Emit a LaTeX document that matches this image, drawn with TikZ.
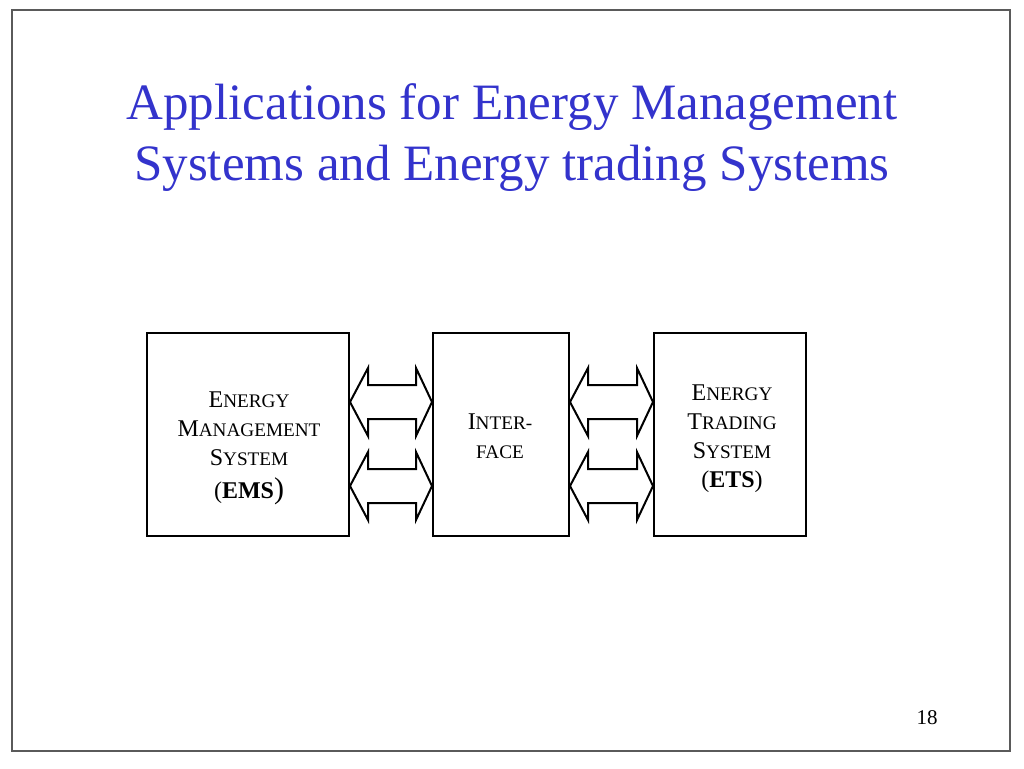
\documentclass[tikz,border=0pt]{standalone}
\usepackage{fontspec}
\setmainfont{Liberation Serif}
\usetikzlibrary{calc}

\definecolor{titleblue}{RGB}{51,51,204}
\definecolor{framegray}{RGB}{90,90,90}

% капитель: первая буква крупно, остальные мельче
\newcommand{\sck}[2]{#1{\fontsize{19.2}{29}\selectfont #2}}
% двойная стрелка между блоками на уровне строки
\newcommand{\link}[3]{%
  \draw[arr] (#1.east |- #3) -- ++(18,-34) -- ++(0,17)
    -- ($(#2.west |- #3)+(-16,-17)$) -- ++(0,-17) -- (#2.west |- #3)
    -- ++(-16,34) -- ++(0,-17) -- ($(#1.east |- #3)+(18,17)$)
    -- ++(0,17) -- cycle;}

\begin{document}
\begin{tikzpicture}[x=1pt, y=-1pt,
    box/.style={draw, line width=2pt, minimum height=203, inner sep=0pt},
    arr/.style={draw, line width=2pt, line join=miter},
    txt/.style={font=\fontsize{24}{29}\selectfont, align=center}]
  \useasboundingbox (0,0) rectangle (1024,768);

  % Рамка слайда
  \draw[framegray, line width=1.3pt] (12,10) rectangle (1010,751);

  % Заголовок
  \node[font=\fontsize{51}{61}\selectfont, text=titleblue, align=center] (title)
    at (512,138) {Applications for Energy Management\\Systems and Energy trading Systems};

  % Блоки
  \node[box, minimum width=202] (ems) at (248,434.5) {};
  \node[box, minimum width=136] (iface) at (501,434.5) {};
  \node[box, minimum width=152] (ets) at (730,434.5) {};

  % Подписи блоков
  \node[txt] (emstext) at (249,448) {\sck{E}{NERGY}\\\sck{M}{ANAGEMENT}\\\sck{S}{YSTEM}\\[4pt](\textbf{EMS}{\fontsize{30}{29}\selectfont)}};
  \node[txt] (ifacetext) at (500,436) {\sck{I}{NTER-}\\{\fontsize{19.2}{29}\selectfont FACE}};
  \node[txt] (etstext) at (732,439) {\sck{E}{NERGY}\\\sck{T}{RADING}\\\sck{S}{YSTEM}\\(\textbf{ETS})};

  % Уровни стрелок
  \coordinate (row1) at (0,402);
  \coordinate (row2) at (0,486);

  % Двойные стрелки
  \link{ems}{iface}{row1}
  \link{ems}{iface}{row2}
  \link{iface}{ets}{row1}
  \link{iface}{ets}{row2}

  % Номер слайда
  \node[font=\fontsize{21}{21}\selectfont] (pgnum) at (927,718) {18};
\end{tikzpicture}
\end{document}
